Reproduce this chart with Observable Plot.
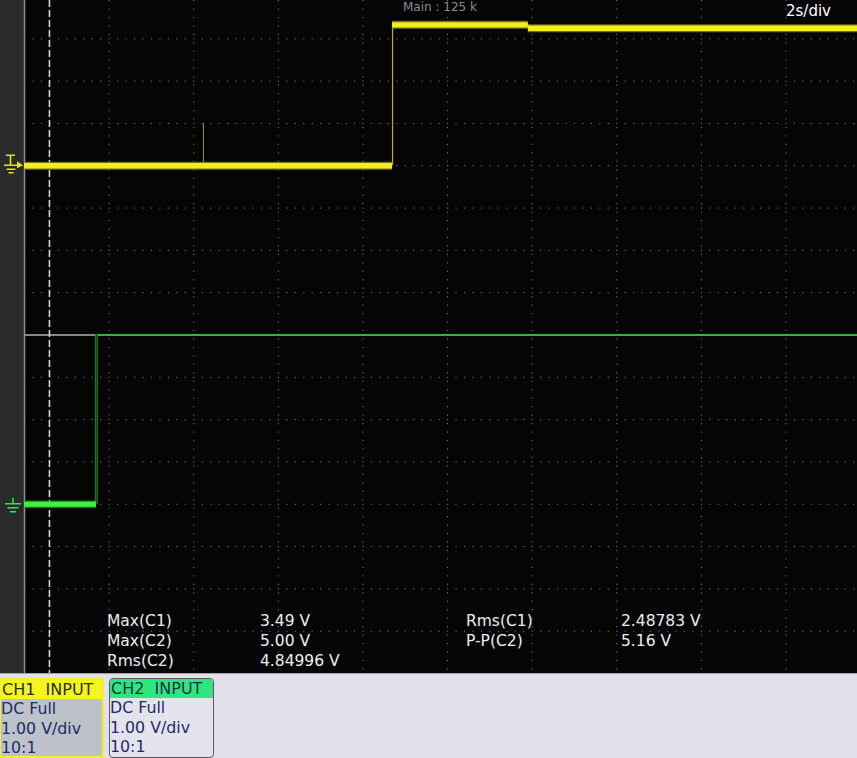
<!DOCTYPE html>
<html>
<head>
<meta charset="utf-8">
<script src="https://cdn.jsdelivr.net/npm/d3@7"></script>
<script src="https://cdn.jsdelivr.net/npm/@observablehq/plot@0.6"></script>
<style>
  html, body { margin: 0; padding: 0; background: #e1dfe9; }
  #wrap { position: relative; width: 857px; height: 758px; overflow: hidden; background: #e1dfe9; font-family: "DejaVu Sans", sans-serif; }
  #strip { position: absolute; left: 0; top: 0; width: 24px; height: 673px; background: #2b2b2b; }
  #screen { position: absolute; left: 24px; top: 0; width: 833px; height: 673px; background: #050505; }
  #chart { position: absolute; left: 0; top: 0; }
  .meas { position: absolute; color: #eeeeee; font-size: 15.5px; line-height: 20px; white-space: pre; }
  .label { position: absolute; color: #8c8c8c; font-size: 12px; line-height: 14px; white-space: pre; }
  #panel { position: absolute; left: 0; top: 673px; width: 857px; height: 85px; background: #e1dfe9; border-top: 1px solid #a0a0a8; box-sizing: border-box; }
  .chbox { position: absolute; top: 4px; height: 80px; box-sizing: border-box; font-size: 15.8px; color: #1d2c62; }
  .chbox .hd { height: 19px; line-height: 19px; padding-left: 1px; font-size: 16px; white-space: pre; }
  .chbox .ln { height: 19.5px; line-height: 19.5px; padding-left: 0px; white-space: pre; }
</style>
</head>
<body>
<div id="wrap">
  <div id="strip"></div>
  <div id="screen"></div>
  <div id="chart"></div>
  <div id="panel"></div>
</div>
<script>
// ---- Data ----
// Timebase 2 s/div; display y in divisions, 1.00 V/div per channel
const secPerDiv = 2;
const c1StepTimes = [0, 8.70, 11.91, 19.69];   // s, level boundaries of CH1
const c1Levels    = [0.00, 3.33, 3.25];        // V
const c1GlitchTime = 4.23;                     // s, narrow spike on CH1
const c1GlitchPeak = 1.00;                     // V
const c2StepTimes = [0, 1.70, 19.69];          // s
const c2Levels    = [0.00, 5.00];              // V (displayed clipped at top of lower half)
const triggerTime = 0.59;                      // s
const c1Offset = 4;    // div: CH1 ground position (upper half)
const c2Offset = -4;   // div: CH2 ground position (lower half)
const gridTimes = [2, 4, 6, 8, 10, 12, 14, 16, 18];
const gridDivs = [-7, -6, -5, -4, -3, -2, -1, 1, 2, 3, 4, 5, 6, 7];

const measNames1 = ["Max(C1)", "Max(C2)", "Rms(C2)"];
const measValues1 = ["3.49 V", "5.00 V", "4.84996 V"];
const measNames2 = ["Rms(C1)", "P-P(C2)"];
const measValues2 = ["2.48783 V", "5.16 V"];
const timebaseLabel = "2s/div";
const acqLabel = "Main : 125 k";
const ch1Lines = ["DC Full", "1.00 V/div", "10:1"];
const ch2Lines = ["DC Full", "1.00 V/div", "10:1"];

// ---- Build segments ----
function segments(times, levels, offset, lo, hi) {
  return levels.map((v, i) => ({
    t0: times[i], t1: times[i + 1], v,
    y: Math.max(lo, Math.min(hi, v + offset))
  }));
}
function edges(segs) {
  const out = [];
  for (let i = 1; i < segs.length; i++) out.push({t: segs[i].t0, y1: segs[i - 1].y, y2: segs[i].y});
  return out;
}
const c1Segs = segments(c1StepTimes, c1Levels, c1Offset, 0, 8);
const c2Segs = segments(c2StepTimes, c2Levels, c2Offset, -8, 0);
const c1Edges = edges(c1Segs);
const c2Edges = edges(c2Segs);
const glitch = [{t: c1GlitchTime, y1: c1Offset, y2: c1Offset + c1GlitchPeak}];

const W = 857, H = 673;
const plot = Plot.plot({
  width: W, height: H,
  marginLeft: 24, marginRight: 0, marginTop: 0, marginBottom: 0,
  style: {background: "transparent", overflow: "visible"},
  x: {domain: [0, 19.69], axis: null},
  y: {domain: [-8, 8], range: [H, -4], axis: null},
  marks: [
    // graticule
    Plot.ruleX(gridTimes, {stroke: "#7a7a7a", strokeWidth: 1, strokeDasharray: "1.2,7.26"}),
    Plot.ruleY(gridDivs, {stroke: "#7a7a7a", strokeWidth: 1, strokeDasharray: "1.2,7.26"}),
    // split divider
    Plot.ruleY([0], {stroke: "#b4b4b4", strokeWidth: 1.6}),
    // left screen edge
    Plot.ruleX([0], {stroke: "#8e8e8e", strokeWidth: 1.5}),
    // trigger position marker
    Plot.ruleX([triggerTime], {stroke: "#d4d4d4", strokeWidth: 1.6, strokeDasharray: "7,3"}),
    // CH1 (yellow)
    Plot.ruleX(glitch, {x: "t", y1: "y1", y2: "y2", stroke: "#9c9420", strokeWidth: 1}),
    Plot.ruleX(c1Edges, {x: "t", y1: "y1", y2: "y2", stroke: "#b8b020", strokeWidth: 1.2}),
    Plot.ruleY(c1Segs, {x1: "t0", x2: "t1", y: "y", stroke: "#8a8414", strokeWidth: 8, strokeOpacity: 0.85}),
    Plot.ruleY(c1Segs, {x1: "t0", x2: "t1", y: "y", stroke: "#f2ee1e", strokeWidth: 5.4}),
    // CH2 (green)
    Plot.ruleY(c2Segs.slice(1), {x1: "t0", x2: "t1", y: "y", stroke: "#2fb82f", strokeWidth: 1.6}),
    Plot.ruleX(c2Edges, {x: "t", y1: "y1", y2: "y2", stroke: "#1f7f1f", strokeWidth: 3}),
    Plot.ruleX(c2Edges, {x: "t", y1: "y1", y2: "y2", stroke: "#0a2a0a", strokeWidth: 0.8}),
    Plot.ruleY(c2Segs.slice(0, 1), {x1: "t0", x2: "t1", y: "y", stroke: "#1f9a1f", strokeWidth: 7.5, strokeOpacity: 0.8}),
    Plot.ruleY(c2Segs.slice(0, 1), {x1: "t0", x2: "t1", y: "y", stroke: "#3ef23e", strokeWidth: 5})
  ]
});
document.getElementById("chart").appendChild(plot);

// ground markers in the left strip, positioned through the y scale
const ys = plot.scale("y");
const svg = d3.select(plot);
const g1 = ys.apply(c1Offset), g2 = ys.apply(c2Offset);
const m1 = svg.append("g").attr("stroke", "#e8e41c").attr("stroke-width", 1.6).attr("fill", "none");
m1.append("path").attr("d", `M6,${g1 - 10}H15M10.5,${g1 - 10}V${g1}M4,${g1}H18M6.5,${g1 + 4}H15.5M8.5,${g1 + 7.5}H13.5`);
svg.append("path").attr("fill", "#e8e41c").attr("d", `M17,${g1 - 4}L23,${g1}L17,${g1 + 3}Z`);
const m2 = svg.append("g").attr("stroke", "#2ee83a").attr("stroke-width", 1.6).attr("fill", "none");
m2.append("path").attr("d", `M13,${g2 - 6}V${g2}M5,${g2}H21M7.5,${g2 + 4}H18.5M10,${g2 + 8}H16`);

// texts over the screen
const wrap = document.getElementById("wrap");
function addText(cls, txt, x, y, extra) {
  const d = document.createElement("div");
  d.className = cls; d.textContent = txt;
  d.style.left = x + "px"; d.style.top = y + "px";
  if (extra) Object.assign(d.style, extra);
  wrap.appendChild(d);
}
addText("label", acqLabel, 403, 0);
addText("meas", timebaseLabel, 786, 1, {fontSize: "15px", color: "#ffffff"});
measNames1.forEach((s, i) => addText("meas", s, 107, 611 + i * 20));
measValues1.forEach((s, i) => addText("meas", s, 260, 611 + i * 20));
measNames2.forEach((s, i) => addText("meas", s, 466, 611 + i * 20));
measValues2.forEach((s, i) => addText("meas", s, 621, 611 + i * 20));

// channel boxes
const panel = document.getElementById("panel");
function chBox(left, width, title, lines, hdBg, bodyBg, border, radius, hdColor) {
  const b = document.createElement("div");
  b.className = "chbox";
  b.style.left = left + "px"; b.style.width = width + "px";
  b.style.border = border; b.style.borderRadius = radius; b.style.background = bodyBg;
  b.style.overflow = "hidden";
  const h = document.createElement("div");
  h.className = "hd"; h.textContent = title; h.style.background = hdBg; h.style.color = hdColor;
  b.appendChild(h);
  lines.forEach(t => { const l = document.createElement("div"); l.className = "ln"; l.textContent = t; b.appendChild(l); });
  panel.appendChild(b);
}
chBox(-1, 105, "CH1  INPUT", ch1Lines, "#f6f41e", "#bcc1ca", "2px solid #f0ee30", "0", "#26321a");
chBox(109, 105, "CH2  INPUT", ch2Lines, "#2ee67c", "#e4e2ec", "1px solid #5a5a66", "4px", "#1a3050");
</script>
</body>
</html>
